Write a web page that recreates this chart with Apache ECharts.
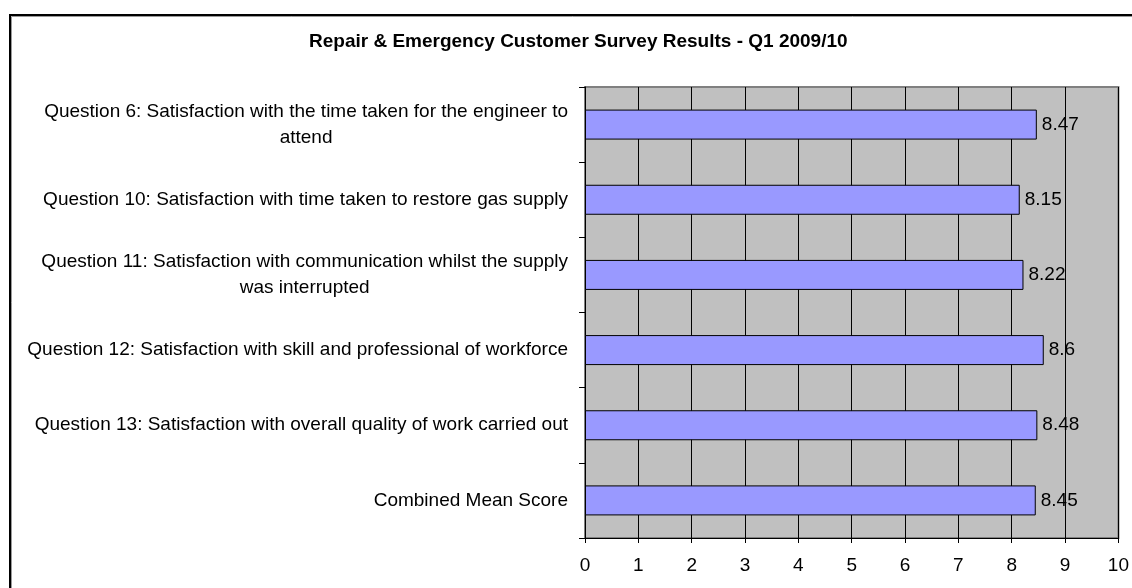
<!DOCTYPE html>
<html>
<head>
<meta charset="utf-8">
<script src="https://cdn.jsdelivr.net/npm/echarts@6/dist/echarts.min.js"></script>
<style>
html,body{margin:0;padding:0;background:#fff;}
#chart{width:1132px;height:588px;}
</style>
</head>
<body>
<div id="chart"></div>
<script>
const titleText = 'Repair & Emergency Customer Survey Results - Q1 2009/10';
const categories = [
  'Question 6: Satisfaction with the time taken for the engineer to\nattend',
  'Question 10: Satisfaction with time taken to restore gas supply',
  'Question 11: Satisfaction with communication whilst the supply\nwas interrupted',
  'Question 12: Satisfaction with skill and professional of workforce',
  'Question 13: Satisfaction with overall quality of work carried out',
  'Combined Mean Score'
];
const scores = [8.47, 8.15, 8.22, 8.6, 8.48, 8.45];
const xTicks = [0, 1, 2, 3, 4, 5, 6, 7, 8, 9, 10];

const FONT = '"Liberation Sans", Arial, sans-serif';
const FS = 19;
const chart = echarts.init(document.getElementById('chart'), null, {renderer: 'canvas'});
const option = {
  backgroundColor: '#ffffff',
  animation: false,
  title: {
    text: titleText,
    left: 309,
    top: 32,
    padding: 0,
    textStyle: {fontFamily: FONT, fontSize: FS, fontWeight: 'bold', color: '#000'}
  },
  graphic: [{
    type: 'rect',
    shape: {x: 11.5, y: 16.5, width: 1150, height: 600},
    style: {fill: 'none', stroke: '#9a9a9a', lineWidth: 1},
    silent: true
  }, {
    type: 'rect',
    shape: {x: 10, y: 15, width: 1150, height: 600},
    style: {fill: 'none', stroke: '#000', lineWidth: 2},
    silent: true
  }],
  grid: {
    left: 585, right: 12, top: 87, bottom: 50,
    show: true, backgroundColor: '#C0C0C0', borderColor: '#808080', borderWidth: 2
  },
  xAxis: {
    type: 'value',
    min: xTicks[0], max: xTicks[xTicks.length - 1], interval: 1,
    axisLine: {show: true, lineStyle: {color: '#000', width: 1}},
    axisTick: {show: true, length: 5, lineStyle: {color: '#000'}},
    splitLine: {show: true, lineStyle: {color: '#000', width: 1}},
    axisLabel: {fontFamily: FONT, fontSize: FS, color: '#000', margin: 18}
  },
  yAxis: {
    type: 'category',
    inverse: true,
    data: categories,
    axisLine: {show: true, lineStyle: {color: '#000', width: 1}},
    axisTick: {show: true, length: 6, lineStyle: {color: '#000'}},
    splitLine: {show: false},
    axisLabel: {
      fontFamily: FONT, fontSize: FS, color: '#000', margin: 17,
      formatter: function (v) {
        return v.split('\n').map(function (s) { return '{c|' + s + '}'; }).join('\n');
      },
      rich: {c: {fontFamily: FONT, fontSize: FS, color: '#000', align: 'center', lineHeight: 26}}
    }
  },
  series: [{
    type: 'bar',
    data: scores,
    barWidth: 30,
    itemStyle: {color: '#9999FF', borderColor: '#000', borderWidth: 1},
    label: {show: true, position: 'right', distance: 5, fontFamily: FONT, fontSize: FS, color: '#000'}
  }]
};
chart.setOption(option);
</script>
</body>
</html>
